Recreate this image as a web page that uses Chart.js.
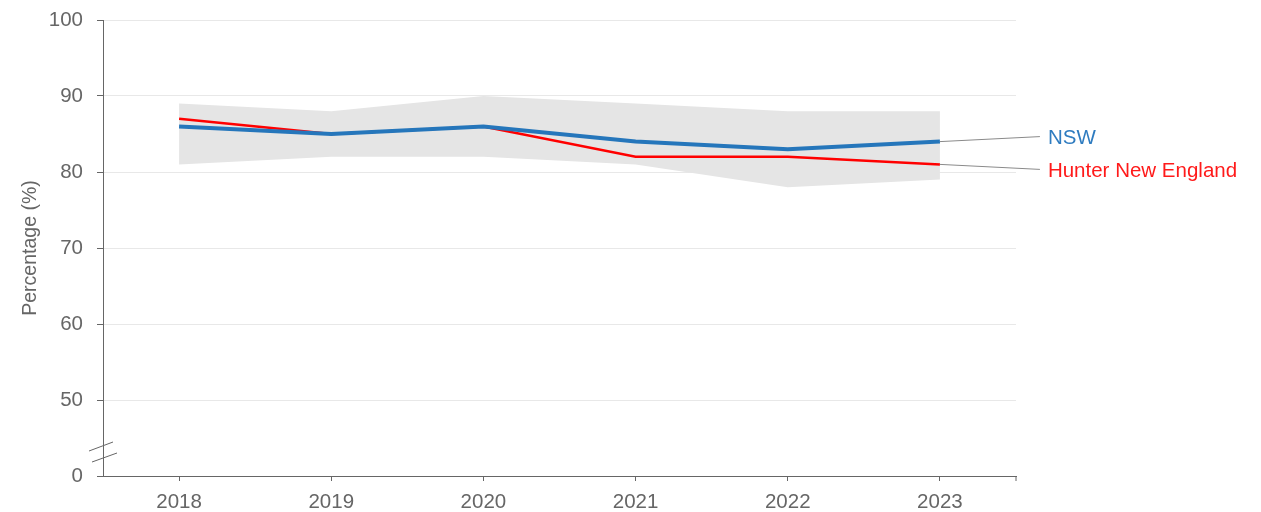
<!DOCTYPE html>
<html>
<head>
<meta charset="utf-8">
<script src="https://cdn.jsdelivr.net/npm/chart.js@4/dist/chart.umd.min.js"></script>
<style>
  html, body { margin: 0; padding: 0; background: #fff; }
  #wrap { width: 1261px; height: 512px; }
</style>
</head>
<body>
<div id="wrap"><canvas id="myChart"></canvas></div>
<script>
const years = ["2018", "2019", "2020", "2021", "2022", "2023"];
const nsw = [86, 85, 86, 84, 83, 84];
const hunterNewEngland = [87, 85, 86, 82, 82, 81];
const rangeHigh = [89, 88, 90, 89, 88, 88];
const rangeLow = [81, 82, 82, 81, 78, 79];
const yTicks = [40, 50, 60, 70, 80, 90, 100];

const FONT = "'Liberation Sans', Arial, sans-serif";
const TEXT = "#666";

// series labels at the right end, joined to the last point by a thin leader
const endLabels = {
  id: "endLabels",
  afterDatasetsDraw(chart) {
    const { ctx } = chart;
    const x = chart.scales.x;
    const y = chart.scales.y;
    const last = years.length - 1;
    const px = x.getPixelForValue(last);
    const items = [
      { text: "NSW", value: nsw[last], color: "#2f7cc0", dy: -5 },
      { text: "Hunter New England", value: hunterNewEngland[last], color: "#ff1a1a", dy: 5 },
    ];
    ctx.save();
    ctx.font = "20.5px " + FONT;
    ctx.textBaseline = "middle";
    items.forEach((it) => {
      const py = y.getPixelForValue(it.value);
      ctx.strokeStyle = "#8a8a8a";
      ctx.lineWidth = 1;
      ctx.beginPath();
      ctx.moveTo(px, py);
      ctx.lineTo(px + 100, py + it.dy);
      ctx.stroke();
      ctx.fillStyle = it.color;
      ctx.fillText(it.text, px + 108, py + it.dy + 1.5);
    });
    ctx.restore();
  },
};

// axis break marks and the closing tick at the end of the x axis
const axisExtras = {
  id: "axisExtras",
  afterDraw(chart) {
    const { ctx, chartArea } = chart;
    const y = chart.scales.y;
    const base = y.getPixelForValue(40);
    const ax = chartArea.left;
    ctx.save();
    ctx.strokeStyle = "#666";
    ctx.lineWidth = 1;
    ctx.beginPath();
    ctx.moveTo(ax - 14, base - 25);
    ctx.lineTo(ax + 10, base - 34);
    ctx.moveTo(ax - 11, base - 14);
    ctx.lineTo(ax + 14, base - 23);
    ctx.moveTo(chartArea.right, base);
    ctx.lineTo(chartArea.right, base + 5);
    ctx.stroke();
    ctx.restore();
  },
};

const ctx = document.getElementById("myChart").getContext("2d");

new Chart(ctx, {
  type: "line",
  data: {
    labels: years,
    datasets: [
      {
        label: "NSW",
        data: nsw,
        borderColor: "#2576bb",
        borderWidth: 4,
        pointRadius: 0,
        tension: 0,
        order: 0,
      },
      {
        label: "Hunter New England",
        data: hunterNewEngland,
        borderColor: "#ff0000",
        borderWidth: 2.5,
        pointRadius: 0,
        tension: 0,
        order: 1,
      },
      {
        label: "low",
        data: rangeLow,
        borderWidth: 0,
        borderColor: "rgba(0,0,0,0)",
        pointRadius: 0,
        fill: false,
        tension: 0,
        order: 3,
      },
      {
        label: "high",
        data: rangeHigh,
        borderWidth: 0,
        borderColor: "rgba(0,0,0,0)",
        backgroundColor: "#e5e5e5",
        pointRadius: 0,
        fill: "-1",
        tension: 0,
        order: 2,
      },
    ],
  },
  options: {
    responsive: true,
    maintainAspectRatio: false,
    animation: false,
    layout: { padding: { top: 20, right: 245, bottom: 0, left: 0 } },
    plugins: {
      legend: { display: false },
      tooltip: { enabled: false },
    },
    scales: {
      x: {
        offset: true,
        afterFit: (s) => { s.height = 36; },
        grid: {
          offset: false,
          drawOnChartArea: false,
          tickLength: 5,
          tickColor: "#666",
        },
        border: { color: "#666", width: 1 },
        ticks: {
          color: TEXT,
          font: { family: FONT, size: 20.5 },
          padding: 9,
          maxRotation: 0,
        },
      },
      y: {
        min: 40,
        max: 100,
        afterFit: (s) => {
          s.width = 103;
          s.paddingTop = 0;
          s.paddingBottom = 0;
        },
        afterBuildTicks: (s) => { s.ticks = yTicks.map((v) => ({ value: v })); },
        grid: {
          color: (c) => (c.tick && c.tick.value === 40 ? "rgba(0,0,0,0)" : "#e8e8e8"),
          tickLength: 6,
          tickColor: "#666",
        },
        border: { color: "#666", width: 1 },
        ticks: {
          color: TEXT,
          font: { family: FONT, size: 20.5 },
          padding: 14,
          callback: (v) => (v === 40 ? "0" : String(v)),
        },
        title: {
          display: true,
          text: "Percentage (%)",
          color: TEXT,
          font: { family: FONT, size: 19.5 },
          padding: { top: 19, bottom: 0 },
        },
      },
    },
  },
  plugins: [endLabels, axisExtras],
});
</script>
</body>
</html>
